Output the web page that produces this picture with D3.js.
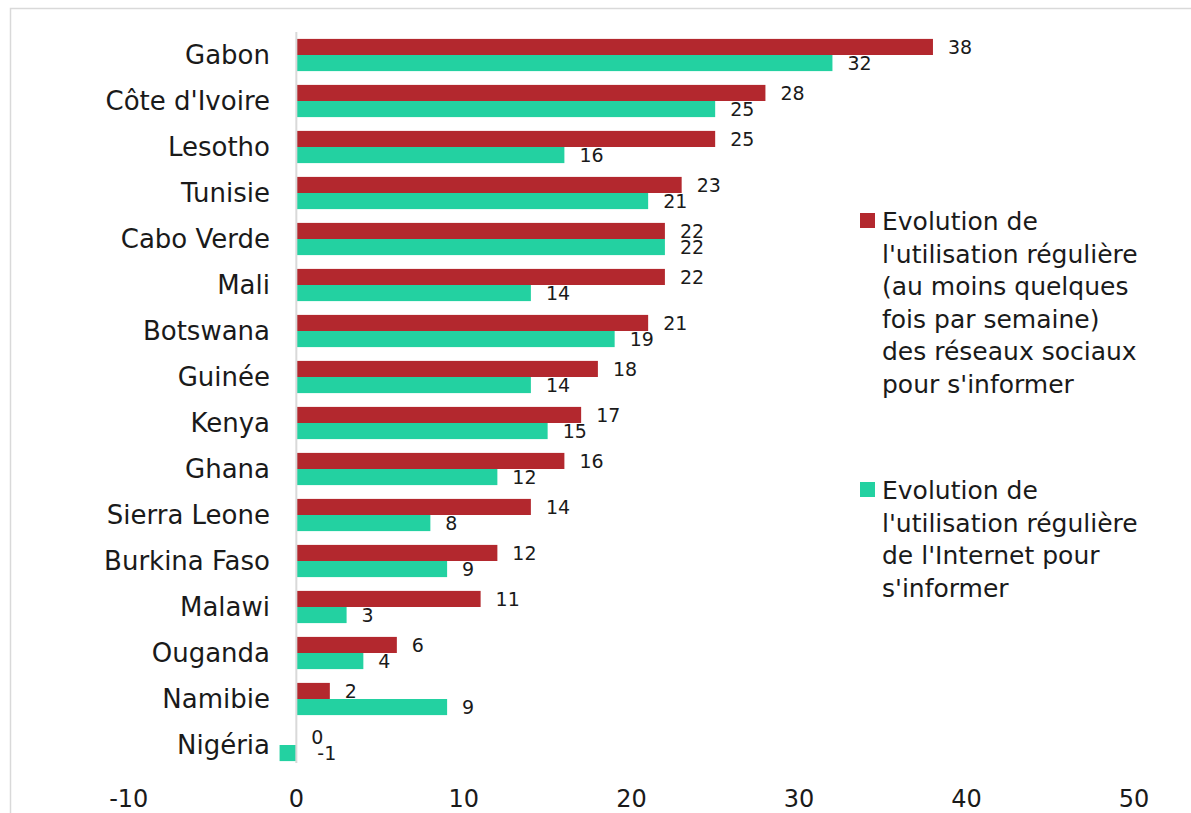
<!DOCTYPE html>
<html>
<head>
<meta charset="utf-8">
<script src="https://cdn.jsdelivr.net/npm/d3@7"></script>
<style>
  body { margin: 0; background: #fff; }
  text { font-family: "DejaVu Sans", sans-serif; fill: #1a1a1a; }
</style>
</head>
<body>
<div id="chart"></div>
<script>
// Set size constants
var totWidth = 1191,
    totHeight = 813;

// Data
var countries = ["Gabon", "Côte d'Ivoire", "Lesotho", "Tunisie", "Cabo Verde", "Mali", "Botswana", "Guinée",
  "Kenya", "Ghana", "Sierra Leone", "Burkina Faso", "Malawi", "Ouganda", "Namibie", "Nigéria"];
var socialValues = [38, 28, 25, 23, 22, 22, 21, 18, 17, 16, 14, 12, 11, 6, 2, 0];
var internetValues = [32, 25, 16, 21, 22, 14, 19, 14, 15, 12, 8, 9, 3, 4, 9, -1];
var xTicks = [-10, 0, 10, 20, 30, 40, 50];
var seriesNames = ["social", "internet"];
var seriesColors = ["#B3282E", "#23D1A1"];
var legendLines = [
  ["Evolution de", "l'utilisation régulière", "(au moins quelques", "fois par semaine)", "des réseaux sociaux", "pour s'informer"],
  ["Evolution de", "l'utilisation régulière", "de l'Internet pour", "s'informer"]
];

var svg = d3.select("#chart")
  .append("svg")
    .attr("width", totWidth)
    .attr("height", totHeight);

// chart border
svg.append("rect")
  .attr("x", 10.5)
  .attr("y", 8.5)
  .attr("width", totWidth + 20)
  .attr("height", totHeight + 20)
  .attr("fill", "none")
  .attr("stroke", "#d9d9d9")
  .attr("stroke-width", 1.5);

// scales
var x = d3.scaleLinear()
  .domain([-10, 50])
  .range([128.8, 1134]);

var y = d3.scaleBand()
  .domain(countries)
  .range([32, 768])
  .paddingInner(0.3)
  .paddingOuter(0.15);

var ySub = d3.scaleBand()
  .domain(seriesNames)
  .range([0, y.bandwidth()]);

var rows = countries.map(function(c, i) {
  return {country: c, social: socialValues[i], internet: internetValues[i]};
});

// bars
var groups = svg.selectAll(".grp")
  .data(rows)
  .enter()
  .append("g")
    .attr("class", "grp")
    .attr("transform", function(d) { return "translate(0," + y(d.country) + ")"; });

groups.selectAll("rect")
  .data(function(d) { return seriesNames.map(function(k) { return {key: k, value: d[k]}; }); })
  .enter()
  .append("rect")
    .attr("x", function(d) { return x(Math.min(0, d.value)); })
    .attr("y", function(d) { return ySub(d.key); })
    .attr("width", function(d) { return Math.abs(x(d.value) - x(0)); })
    .attr("height", ySub.bandwidth())
    .attr("fill", function(d, i) { return seriesColors[i]; });

// value labels
groups.selectAll(".lbl")
  .data(function(d) { return seriesNames.map(function(k) { return {key: k, value: d[k]}; }); })
  .enter()
  .append("text")
    .attr("class", "lbl")
    .attr("x", function(d) { return d.value < 0 ? x(0) + 21 : x(d.value) + 15; })
    .attr("y", function(d) { return ySub(d.key) + ySub.bandwidth() / 2; })
    .attr("dy", "0.36em")
    .attr("font-size", "19px")
    .text(function(d) { return d.value; });

// zero axis line
svg.append("line")
  .attr("x1", x(0))
  .attr("x2", x(0))
  .attr("y1", 32)
  .attr("y2", 763)
  .attr("stroke", "#d9d9d9")
  .attr("stroke-width", 2);

// category labels
svg.selectAll(".cat")
  .data(countries)
  .enter()
  .append("text")
    .attr("class", "cat")
    .attr("x", 270)
    .attr("y", function(d) { return y(d) + y.bandwidth() / 2; })
    .attr("dy", "0.36em")
    .attr("text-anchor", "end")
    .attr("font-size", "26px")
    .text(function(d) { return d; });

// x axis tick labels
svg.selectAll(".tick-lbl")
  .data(xTicks)
  .enter()
  .append("text")
    .attr("class", "tick-lbl")
    .attr("x", function(d) { return x(d); })
    .attr("y", 807)
    .attr("text-anchor", "middle")
    .attr("font-size", "24px")
    .text(function(d) { return d; });

// legend
var legendTops = [213, 482];
legendLines.forEach(function(lines, i) {
  svg.append("rect")
    .attr("x", 860)
    .attr("y", legendTops[i])
    .attr("width", 15)
    .attr("height", 15)
    .attr("fill", seriesColors[i]);
  var t = svg.append("text")
    .attr("font-size", "25px");
  t.selectAll("tspan")
    .data(lines)
    .enter()
    .append("tspan")
      .attr("x", 882)
      .attr("y", function(d, j) { return legendTops[i] + 17 + j * 32.6; })
      .text(function(d) { return d; });
});
</script>
</body>
</html>
